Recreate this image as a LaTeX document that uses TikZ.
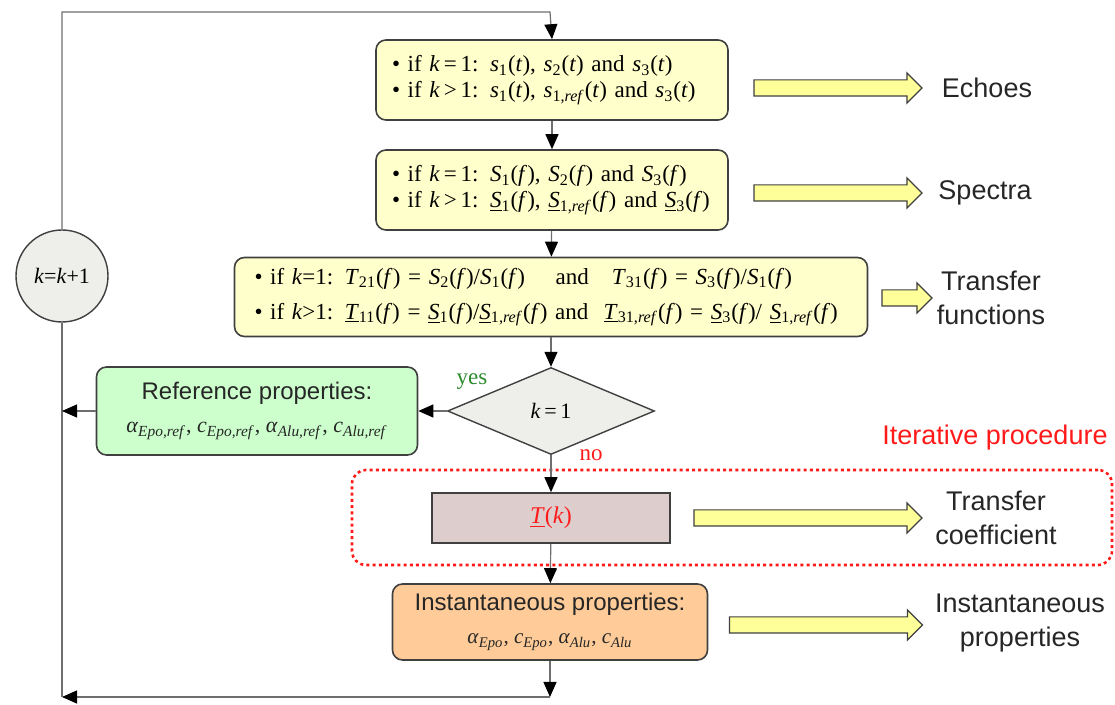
\documentclass[tikz,border=0pt]{standalone}
\usepackage{fontspec}
\setmainfont{Liberation Serif}
\setsansfont{Liberation Sans}
\usetikzlibrary{arrows.meta,shapes.geometric,shapes.arrows}
\definecolor{Edge}{HTML}{404040}
\definecolor{Wire}{HTML}{6E6E6E}
\definecolor{Ink}{HTML}{262626}
\definecolor{Cream}{HTML}{FFFFCC}
\definecolor{ArrowY}{HTML}{FFFF99}
\definecolor{Mint}{HTML}{CCFFCC}
\definecolor{Peach}{HTML}{FFCC99}
\definecolor{Rose}{HTML}{DDCDCD}
\definecolor{Pale}{HTML}{EEEEEA}
\definecolor{Alarm}{HTML}{FF1A1A}
\definecolor{Leaf}{HTML}{2E8B2E}

\newcommand{\mvar}[1]{\textit{#1}}
\newcommand{\sig}[3]{\textit{#1}\textsubscript{#2}(\textit{#3})}
\newcommand{\usig}[3]{\underline{\textit{#1}}\textsubscript{#2}(\textit{#3})}
\newcommand{\prop}[2]{\textit{#1}\textsubscript{\textit{#2}}}

\begin{document}
\begin{tikzpicture}[
  x=0.5pt, y=-0.5pt,
  box/.style={draw=Edge, rounded corners=5pt, line width=0.8pt, inner ysep=2pt},
  yel/.style={box, fill=Cream, align=left, inner xsep=8pt, text width=160pt, minimum height=40pt, font=\fontsize{11.5}{13}\selectfont},
  wide/.style={yel, inner xsep=10pt, text width=296.5pt, minimum height=39.5pt, font=\fontsize{11.5}{17.5}\selectfont},
  prp/.style={box, align=center, font=\sffamily\fontsize{12}{16.5}\selectfont, text=Ink},
  dec/.style={diamond, draw=Edge, fill=Pale, line width=0.7pt, aspect=2.4, minimum width=103.5pt, minimum height=43.5pt, inner sep=0pt, font=\fontsize{11}{13}\selectfont},
  cnt/.style={circle, draw=Edge, fill=Pale, line width=0.7pt, minimum size=46pt, inner sep=0pt, font=\fontsize{11}{13}\selectfont},
  fat/.style={single arrow, draw=Edge, fill=ArrowY, line width=0.6pt, inner xsep=0pt, inner ysep=3.75pt, single arrow head extend=3.5pt},
  lbl/.style={font=\sffamily\fontsize{13.5}{17}\selectfont, text=Ink, align=center},
  conn/.style={draw=Wire, line width=0.6pt},
  arr/.style={conn, -{Triangle[length=7.5pt,width=6.5pt,color=black]}},
]
\useasboundingbox (0,0) rectangle (1115,705);

% main column
\node[yel] (echo) at (552,80) {\textbullet\ if \mvar{k}\,=\,1: \sig{s}{1}{t}, \sig{s}{2}{t} and \sig{s}{3}{t}\\
  \textbullet\ if \mvar{k}\,>\,1: \sig{s}{1}{t}, \sig{s}{1,\textit{ref}}{t} and \sig{s}{3}{t}};
\node[yel] (spec) at (552,190) {\textbullet\ if \mvar{k}\,=\,1: \sig{S}{1}{f}, \sig{S}{2}{f} and \sig{S}{3}{f}\\
  \textbullet\ if \mvar{k}\,>\,1: \usig{S}{1}{f}, \usig{S}{1,\textit{ref}}{f} and \usig{S}{3}{f}};
\node[wide] (tran) at (551,297) {\textbullet\ if \mvar{k}=1: \sig{T}{21}{f} = \sig{S}{2}{f}/\sig{S}{1}{f} \quad and \ \ \sig{T}{31}{f} = \sig{S}{3}{f}/\sig{S}{1}{f}\\
  \textbullet\ if \mvar{k}>1: \usig{T}{11}{f} = \usig{S}{1}{f}/\usig{S}{1,\textit{ref}}{f} and \ \usig{T}{31,\textit{ref}}{f} = \usig{S}{3}{f}/ \usig{S}{1,\textit{ref}}{f}};
\node[dec] (test) at (551,411) {\mvar{k}\,=\,1};
\node[box, rounded corners=0pt, fill=Rose, minimum width=119pt, minimum height=25pt, text=Alarm, font=\fontsize{12}{14}\selectfont] (coef) at (551,518) {\underline{\mvar{T}}(\mvar{k})};
\node[prp, fill=Peach, minimum width=157.5pt, minimum height=38pt] (inst) at (550,622) {Instantaneous properties:\\
  {\rmfamily\fontsize{10.5}{12}\selectfont \prop{α}{Epo}, \prop{c}{Epo}, \prop{α}{Alu}, \prop{c}{Alu}}};
\node[prp, fill=Mint, minimum width=160.5pt, minimum height=44pt] (refp) at (257,411) {Reference properties:\\
  {\rmfamily\fontsize{11}{12}\selectfont \prop{α}{Epo,ref}, \prop{c}{Epo,ref}, \prop{α}{Alu,ref}, \prop{c}{Alu,ref}}};
\node[cnt] (kk) at (62,276) {\mvar{k}=\mvar{k}+1};

% iterative frame
\node[draw=Alarm, dash pattern=on 1.5pt off 1.6pt, line width=1.3pt, rounded corners=7pt, minimum width=380pt, minimum height=47.5pt] (iter) at (732,517.5) {};
\node[lbl, text=Alarm] (itxt) at (995,438) {Iterative procedure};
\node[text=Leaf, font=\fontsize{11.5}{13}\selectfont] (yes) at (472,382) {yes};
\node[text=Alarm, font=\fontsize{11.5}{13}\selectfont] (no) at (591,455) {no};

% outputs
\node[fat, minimum height=84pt] (a1) at (834,88) {};
\node[fat, minimum height=84pt] (a2) at (834,193) {};
\node[fat, minimum height=25pt] (a3) at (903,298) {};
\node[fat, minimum height=114pt] (a4) at (804,518) {};
\node[fat, minimum height=96.5pt] (a5) at (822,625) {};
\node[lbl] (l1) at (987,88) {Echoes};
\node[lbl] (l2) at (985,193) {Spectra};
\node[lbl] (l3) at (991,298) {Transfer\\functions};
\node[lbl] (l4) at (996,518) {Transfer\\coefficient};
\node[lbl] (l5) at (1020,623) {Instantaneous\\properties};

% loop
\coordinate (tr) at (550,12);
\coordinate (br) at (550,697);
\coordinate (bl) at (62,697);
\draw[arr] (kk.north) |- (tr) -- (echo.north);
\draw[arr] (echo) -- (spec);
\draw[arr] (spec) -- (tran);
\draw[arr] (tran) -- (test);
\draw[arr] (test) -- (coef);
\draw[arr] (coef) -- (inst);
\draw[arr] (inst) -- (br);
\draw[arr] (br) -- (bl);
\draw[conn] (bl) -- (kk.south);
\draw[arr] (test.west) -- (refp.east);
\draw[arr] (refp.west) -- (refp.west -| kk.south);
\end{tikzpicture}
\end{document}
